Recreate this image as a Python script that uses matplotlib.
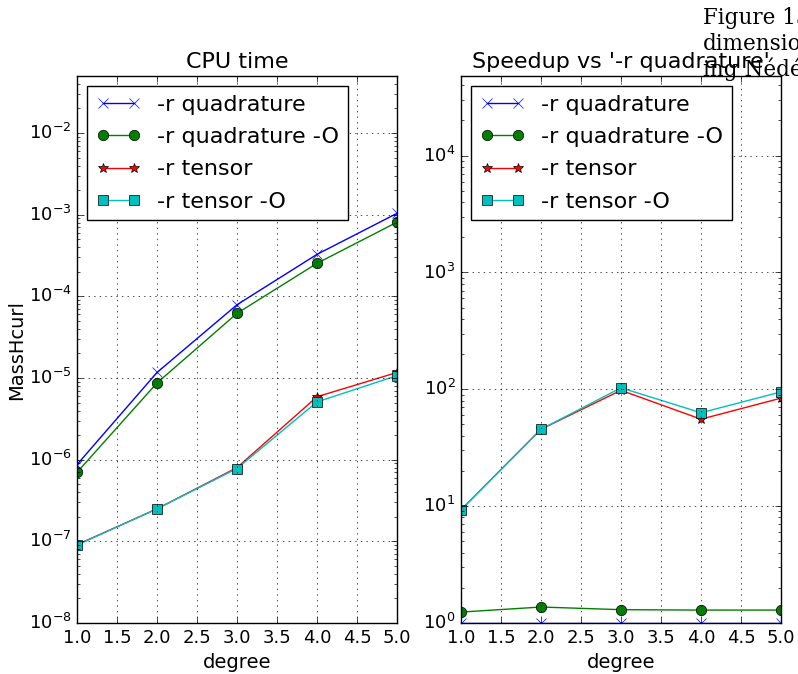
import numpy as np
import matplotlib
matplotlib.use('Agg')
import matplotlib.pyplot as plt

plt.style.use('classic')
plt.rcParams['font.family'] = ['DejaVu Sans']
plt.rcParams['mathtext.fontset'] = 'dejavusans'
plt.rcParams['font.size'] = 13

degree = [1, 2, 3, 4, 5]
labels = ['-r quadrature', '-r quadrature -O', '-r tensor', '-r tensor -O']
markers = ['x', 'o', '*', 's']
colors = ['b', 'g', 'r', 'c']

# CPU time (MassHcurl)
t_quad = [8.7e-7, 1.17e-5, 7.9e-5, 3.27e-4, 1.04e-3]
t_quad_O = [7.0e-7, 8.7e-6, 6.2e-5, 2.54e-4, 8.1e-4]
t_tensor = [9.1e-8, 2.5e-7, 8.0e-7, 5.9e-6, 1.17e-5]
t_tensor_O = [9.0e-8, 2.5e-7, 7.8e-7, 5.1e-6, 1.07e-5]

# Speedup vs '-r quadrature'
s_quad = [1.0, 1.0, 1.0, 1.0, 1.0]
s_quad_O = [1.24, 1.37, 1.30, 1.29, 1.29]
s_tensor = [9.3, 45.5, 98, 55.5, 84]
s_tensor_O = [9.3, 45.5, 103, 63, 95]

fig = plt.figure(figsize=(7.98, 6.74), dpi=100, facecolor='white')
ax1 = fig.add_axes([77/798, 1-623/674, 320/798, 547/674])
ax2 = fig.add_axes([461/798, 1-623/674, 320/798, 547/674])

for ax, series in [(ax1, [t_quad, t_quad_O, t_tensor, t_tensor_O]),
                   (ax2, [s_quad, s_quad_O, s_tensor, s_tensor_O])]:
    for vals, lab, m, c in zip(series, labels, markers, colors):
        ax.semilogy(degree, vals, color=c, marker=m, label=lab,
                    markersize=7.5, markeredgecolor='k' if m != 'x' else c)
    ax.set_xlim(1, 5)
    ax.set_xticks(np.arange(1.0, 5.01, 0.5))
    ax.set_xticklabels(['%.1f' % v for v in np.arange(1.0, 5.01, 0.5)])
    ax.grid(True, color='k', linestyle=':')
    ax.set_xlabel('degree', fontsize=14)
    ax.legend(loc='upper left', numpoints=2, fancybox=False, fontsize=16,
              borderaxespad=0.45, labelspacing=0.55, handletextpad=0.75)

ax1.set_ylim(1e-8, 5e-2)
ax2.set_ylim(1, 4.8e4)
ax1.set_ylabel('MassHcurl', fontsize=14, labelpad=1.5)
ax1.set_title('CPU time', fontsize=16, pad=6)
ax2.set_title("Speedup vs '-r quadrature'", fontsize=16, pad=6)

# margin text of the surrounding document
for s, yy in [('Figure 13:', 24), ('dimensional', 50), ('ing N\u00e9d\u00e9lec', 76)]:
    fig.text(703/798, 1-yy/674, s, family='DejaVu Serif', fontsize=15.5,
             va='baseline', ha='left')

fig.savefig('out.png', dpi=100, facecolor='white')
